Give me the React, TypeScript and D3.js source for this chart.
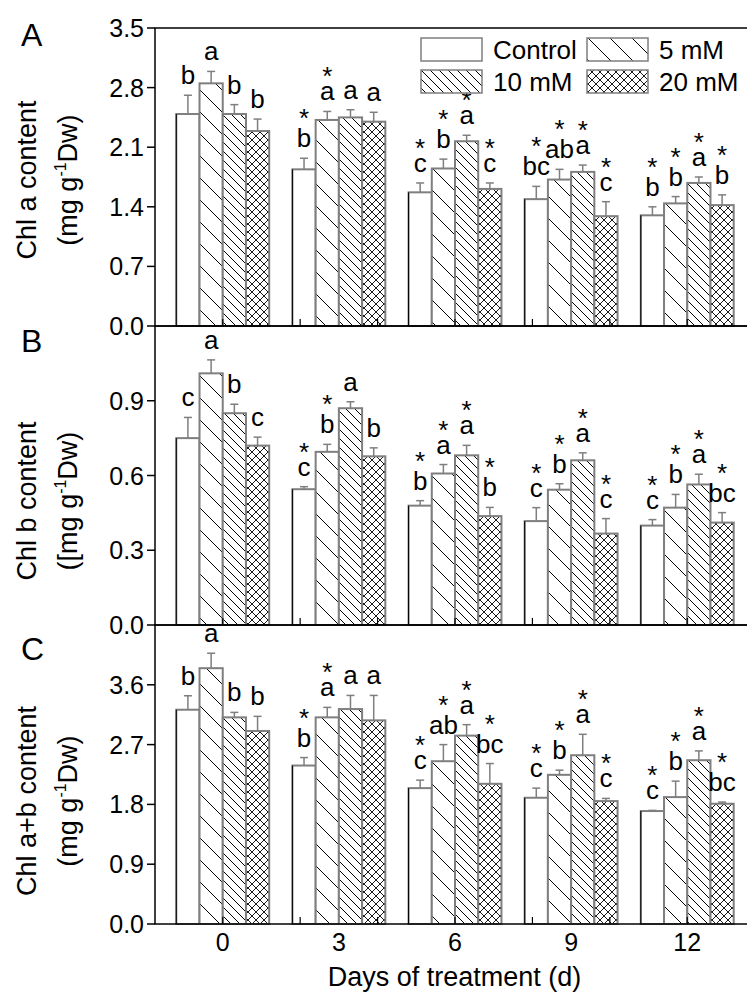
import React from "react";
import * as d3 from "d3";

// ---------- data ----------
const days = [0, 3, 6, 9, 12];
const seriesNames = ["Control", "5 mM", "10 mM", "20 mM"];
const xTickLabelDays = [0, 3, 6, 9, 12];
const xInnerTickDays = [0, 2, 4, 6, 8, 10, 12];

// rows = days, columns = Control, 5 mM, 10 mM, 20 mM
const chlAMean = [
  [2.49, 2.85, 2.49, 2.29],
  [1.84, 2.42, 2.45, 2.4],
  [1.57, 1.85, 2.17, 1.61],
  [1.49, 1.72, 1.81, 1.29],
  [1.3, 1.44, 1.68, 1.42],
];
const chlAErr = [
  [0.22, 0.14, 0.11, 0.14],
  [0.13, 0.1, 0.09, 0.11],
  [0.11, 0.11, 0.07, 0.07],
  [0.15, 0.12, 0.08, 0.17],
  [0.1, 0.08, 0.07, 0.12],
];
const chlALetters = [
  ["b", "a", "b", "b"],
  ["*b", "*a", "a", "a"],
  ["*c", "*b", "*a", "*c"],
  ["*bc", "*ab", "*a", "*c"],
  ["*b", "*b", "*a", "*b"],
];
const chlATicks = [0, 0.7, 1.4, 2.1, 2.8, 3.5];

const chlBMean = [
  [0.75, 1.01, 0.85, 0.72],
  [0.545, 0.695, 0.87, 0.677],
  [0.479, 0.608, 0.681, 0.437],
  [0.417, 0.543, 0.661, 0.367],
  [0.399, 0.471, 0.564, 0.411],
];
const chlBErr = [
  [0.083, 0.054, 0.036, 0.034],
  [0.01, 0.03, 0.026, 0.034],
  [0.02, 0.036, 0.04, 0.035],
  [0.054, 0.024, 0.03, 0.06],
  [0.024, 0.053, 0.041, 0.04],
];
const chlBLetters = [
  ["c", "a", "b", "c"],
  ["*c", "*b", "a", "b"],
  ["*b", "*a", "*a", "*b"],
  ["*c", "*b", "*a", "*c"],
  ["*c", "*b", "*a", "*bc"],
];
const chlBTicks = [0, 0.3, 0.6, 0.9];

const chlABMean = [
  [3.225, 3.85, 3.11, 2.905],
  [2.385, 3.11, 3.235, 3.065],
  [2.045, 2.45, 2.835, 2.11],
  [1.9, 2.245, 2.54, 1.85],
  [1.7, 1.91, 2.465, 1.81],
];
const chlABErr = [
  [0.21, 0.225, 0.075, 0.22],
  [0.12, 0.15, 0.205, 0.375],
  [0.12, 0.25, 0.165, 0.305],
  [0.145, 0.07, 0.315, 0.04],
  [0.01, 0.24, 0.14, 0.025],
];
const chlABLetters = [
  ["b", "a", "b", "b"],
  ["*b", "*a", "a", "a"],
  ["*c", "*ab", "*a", "*bc"],
  ["*c", "*b", "*a", "*c"],
  ["*c", "*b", "*a", "*bc"],
];
const chlABTicks = [0, 0.9, 1.8, 2.7, 3.6];

// ---------- layout ----------
const FONT = "'Liberation Sans', Arial, Helvetica, sans-serif";
const left = 147;
const right = 747;
const barDays = 0.6;
const gray = "#7f7f7f";

const panels = [
  { letter: "A", mean: chlAMean, err: chlAErr, labels: chlALetters, ticks: chlATicks, max: 3.5, top: 20, bottom: 318, t1: "Chl a content", t2a: "(mg g", t2b: "Dw)", titleY: 172, letterY: 38 },
  { letter: "B", mean: chlBMean, err: chlBErr, labels: chlBLetters, ticks: chlBTicks, max: 1.2, top: 318, bottom: 617, t1: "Chl b content", t2a: "([mg g", t2b: "Dw)", titleY: 493, letterY: 344 },
  { letter: "C", mean: chlABMean, err: chlABErr, labels: chlABLetters, ticks: chlABTicks, max: 4.5, top: 617, bottom: 916, t1: "Chl a+b content", t2a: "(mg g", t2b: "Dw)", titleY: 793, letterY: 652 },
];

const fills = ["#ffffff", "url(#p5)", "url(#p10)", "url(#p20)"];

function backslash(s: number) {
  return `M-1,-1L${s + 1},${s + 1}M${s - 1},-1L${s + 1},1M-1,${s - 1}L1,${s + 1}`;
}
function slash(s: number) {
  return `M-1,${s + 1}L${s + 1},-1M-1,1L1,-1M${s - 1},${s + 1}L${s + 1},${s - 1}`;
}

export default function App() {
  const x = d3.scaleLinear().domain([-1.75, 13.75]).range([left, right]);
  const bw = x(barDays) - x(0);

  return (
    <svg width={755} height={992} style={{ display: "block", background: "#fff" }} fontFamily={FONT}>
      <defs>
        <pattern id="p5" patternUnits="userSpaceOnUse" width={22} height={22}>
          <rect width={22} height={22} fill="#fff" />
          <path d={backslash(22)} stroke="#000" strokeWidth={1} />
        </pattern>
        <pattern id="p10" patternUnits="userSpaceOnUse" width={9} height={9}>
          <rect width={9} height={9} fill="#fff" />
          <path d={backslash(9)} stroke="#000" strokeWidth={1} />
        </pattern>
        <pattern id="p20" patternUnits="userSpaceOnUse" width={8} height={8}>
          <rect width={8} height={8} fill="#fff" />
          <path d={backslash(8)} stroke="#000" strokeWidth={0.9} />
          <path d={slash(8)} stroke="#000" strokeWidth={0.9} />
        </pattern>
      </defs>

      {panels.map((p) => {
        const y = d3.scaleLinear().domain([0, p.max]).range([p.bottom, p.top]);
        return (
          <g key={p.letter}>
            {/* bars */}
            {days.map((d, di) =>
              seriesNames.map((s, si) => {
                const x0 = x(d) + (si - 2) * bw;
                const v = p.mean[di][si];
                return (
                  <g key={`${d}-${si}`}>
                    <rect x={x0} y={y(v)} width={bw} height={p.bottom - y(v)} fill={fills[si]} stroke={gray} strokeWidth={2} />
                    {si === 0 && <line x1={x0} x2={x0} y1={y(v)} y2={p.bottom} stroke="#000" strokeWidth={1} />}
                  </g>
                );
              })
            )}
            {/* error bars */}
            {days.map((d, di) =>
              seriesNames.map((s, si) => {
                const cx = x(d) + (si - 1.5) * bw;
                const v = p.mean[di][si];
                const e = p.err[di][si];
                return (
                  <g key={`e${d}-${si}`} stroke={gray} strokeWidth={1.5}>
                    <line x1={cx} x2={cx} y1={y(v)} y2={y(v + e)} />
                    <line x1={cx - 4} x2={cx + 4} y1={y(v + e)} y2={y(v + e)} />
                  </g>
                );
              })
            )}
            {/* significance labels: star (if any) above the letter, in one text */}
            {days.map((d, di) =>
              seriesNames.map((s, si) => {
                const cx = x(d) + (si - 1.5) * bw;
                const v = p.mean[di][si];
                const e = p.err[di][si];
                const lab = p.labels[di][si];
                const star = lab.startsWith("*");
                const txt = star ? lab.slice(1) : lab;
                const by = y(v + e) - 11;
                const starOff = txt.includes("b") ? 20 : 15;
                return (
                  <text key={`l${d}-${si}`} fontSize={26} textAnchor="middle" fill="#000" x={cx} y={by}>
                    {star && <tspan x={cx} y={by - starOff}>*</tspan>}
                    <tspan x={cx} y={by}>{txt}</tspan>
                  </text>
                );
              })
            )}
            {/* inner x ticks */}
            {xInnerTickDays.map((d) => (
              <line key={`xt${d}`} x1={x(d)} x2={x(d)} y1={p.bottom} y2={p.bottom - 7} stroke="#000" strokeWidth={1.2} />
            ))}
            {/* y ticks */}
            {p.ticks.map((t) => (
              <g key={`yt${t}`}>
                <line x1={left - 8} x2={left} y1={y(t)} y2={y(t)} stroke="#000" strokeWidth={1.5} />
                <text x={136} y={y(t) + 9} fontSize={25} textAnchor="end">{t.toFixed(1)}</text>
              </g>
            ))}
            {/* frame */}
            <rect x={left} y={p.top} width={right - left} height={p.bottom - p.top} fill="none" stroke="#000" strokeWidth={1.5} />
            {/* panel letter */}
            <text x={13} y={p.letterY} fontSize={32}>{p.letter}</text>
            {/* y title */}
            <text transform={`translate(28,${p.titleY}) rotate(-90)`} fontSize={27} textAnchor="middle">{p.t1}</text>
            <text transform={`translate(69,${p.titleY}) rotate(-90)`} fontSize={27} textAnchor="middle">
              {p.t2a}
              <tspan fontSize={16} dy={-11}>-1</tspan>
              <tspan dy={11}>{p.t2b}</tspan>
            </text>
          </g>
        );
      })}

      {/* legend */}
      {seriesNames.map((s, i) => {
        const col = i % 2;
        const row = Math.floor(i / 2);
        const bx = col === 0 ? 413 : 579;
        const by = row === 0 ? 30 : 62;
        return (
          <g key={`lg${s}`}>
            <rect x={bx} y={by} width={61} height={23} fill={fills[i]} stroke={gray} strokeWidth={1.5} />
            <text x={bx + 72} y={by + 21} fontSize={26}>{s}</text>
          </g>
        );
      })}

      {/* x axis labels */}
      {xTickLabelDays.map((d) => (
        <text key={`xl${d}`} x={x(d)} y={943} fontSize={25} textAnchor="middle">{d}</text>
      ))}
      <text x={446.5} y={978} fontSize={27} textAnchor="middle">Days of treatment (d)</text>
    </svg>
  );
}
